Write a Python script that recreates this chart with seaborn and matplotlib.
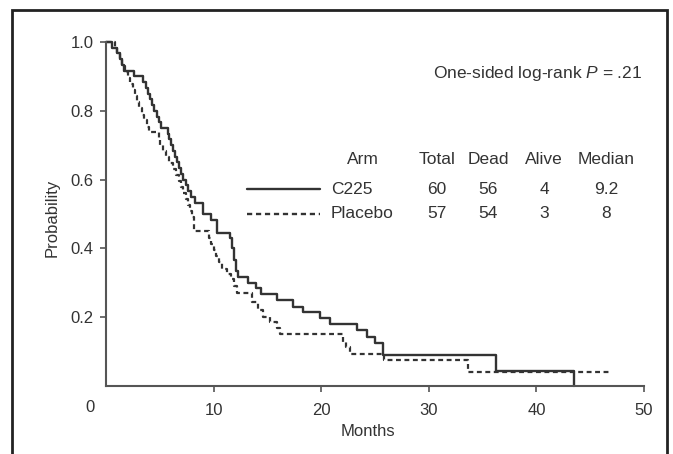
import matplotlib
matplotlib.use("Agg")
import matplotlib.pyplot as plt
from matplotlib.patches import Rectangle
from matplotlib.lines import Line2D
import numpy as np
import pandas as pd
import seaborn as sns

# ---- data ----
c225_months = [0, 0.6, 1.0, 1.3, 1.5, 1.7, 2.6, 3.4, 3.7, 3.9, 4.1, 4.3, 4.5, 4.7, 4.9, 5.1,
               5.8, 5.9, 6.0, 6.2, 6.4, 6.6, 6.8, 7.0, 7.2, 7.4, 7.6, 7.9, 8.3, 9.0, 9.8, 10.3,
               11.5, 11.7, 11.9, 12.1, 12.3, 13.2, 13.9, 14.4, 15.9, 17.4, 18.3, 19.9, 20.8,
               23.3, 24.3, 25.0, 25.7, 36.2, 43.5]
c225_surv = [1.0, 0.983, 0.967, 0.95, 0.933, 0.917, 0.9, 0.883, 0.867, 0.85, 0.833, 0.817, 0.8,
             0.783, 0.767, 0.75, 0.733, 0.717, 0.7, 0.683, 0.667, 0.65, 0.633, 0.617, 0.6, 0.583,
             0.567, 0.55, 0.533, 0.5, 0.483, 0.445, 0.43, 0.4, 0.367, 0.333, 0.317, 0.3, 0.285,
             0.268, 0.25, 0.23, 0.215, 0.197, 0.18, 0.162, 0.143, 0.125, 0.09, 0.044, 0.0]

placebo_months = [0, 0.8, 1.0, 1.3, 1.5, 1.8, 2.0, 2.2, 2.5, 2.7, 2.9, 3.1, 3.3, 3.5, 3.8, 4.0,
                  4.9, 5.0, 5.3, 5.6, 5.9, 6.2, 6.5, 6.8, 7.0, 7.2, 7.4, 7.6, 7.8, 8.0, 8.2, 9.6,
                  9.8, 10.0, 10.2, 10.5, 10.8, 11.2, 11.6, 11.9, 12.2, 13.6, 14.1, 14.6, 15.2,
                  15.9, 16.2, 22.0, 22.3, 22.7, 25.8, 33.6, 47.0]
placebo_surv = [1.0, 0.982, 0.965, 0.947, 0.93, 0.912, 0.895, 0.877, 0.86, 0.842, 0.825, 0.807,
                0.789, 0.772, 0.754, 0.737, 0.719, 0.702, 0.684, 0.667, 0.649, 0.632, 0.614,
                0.596, 0.579, 0.561, 0.544, 0.526, 0.509, 0.491, 0.45, 0.43, 0.412, 0.395, 0.377,
                0.36, 0.34, 0.325, 0.31, 0.29, 0.27, 0.244, 0.22, 0.2, 0.186, 0.168, 0.151,
                0.128, 0.113, 0.094, 0.075, 0.04, 0.04]

arm_names = ["C225", "Placebo"]
table_header = ["Arm", "Total", "Dead", "Alive", "Median"]
totals = ["60", "57"]
deads = ["56", "54"]
alives = ["4", "3"]
medians = ["9.2", "8"]

x_ticks = [10, 20, 30, 40, 50]
y_ticks = [0.2, 0.4, 0.6, 0.8, 1.0]
y_tick_labels = ["0.2", "0.4", "0.6", "0.8", "1.0"]

# ---- style ----
sns.set_theme(style="white")
plt.rcParams["font.family"] = ["Liberation Sans", "DejaVu Sans"]
plt.rcParams["mathtext.fontset"] = "custom"
plt.rcParams["mathtext.rm"] = "Liberation Sans"
plt.rcParams["mathtext.it"] = "Liberation Sans:italic"

W, H = 673, 454
fig = plt.figure(figsize=(W / 100, H / 100), dpi=100)
fig.patch.set_facecolor("white")

def fx(px):
    return px / W

def fy(py):
    return 1 - py / H

ax = fig.add_axes([fx(106), fy(386), fx(644) - fx(106), fy(42) - fy(386)])
ax.set_facecolor("white")

line_color = "#333333"
dash_style = (0, (2.2, 1.6))

df_c = pd.DataFrame({"Months": c225_months, "Probability": c225_surv})
df_p = pd.DataFrame({"Months": placebo_months, "Probability": placebo_surv})

sns.lineplot(data=df_c, x="Months", y="Probability", estimator=None, sort=False,
             drawstyle="steps-post", color=line_color, lw=1.7, ax=ax, clip_on=False)
sns.lineplot(data=df_p, x="Months", y="Probability", estimator=None, sort=False,
             drawstyle="steps-post", color=line_color, lw=1.6, linestyle=dash_style,
             ax=ax, clip_on=False)

ax.set_xlim(0, 50)
ax.set_ylim(0, 1.0)
ax.set_xticks(x_ticks)
ax.set_xticklabels([str(t) for t in x_ticks])
ax.set_yticks(y_ticks)
ax.set_yticklabels(y_tick_labels)
ax.tick_params(axis="both", which="both", direction="out", length=4, width=1.2,
               color="#555555", labelsize=12, labelcolor="#333333", pad=5,
               bottom=True, left=True)
ax.tick_params(axis="x", pad=8)
for s in ["top", "right"]:
    ax.spines[s].set_visible(False)
for s in ["left", "bottom"]:
    ax.spines[s].set_color("#555555")
    ax.spines[s].set_linewidth(1.5)
ax.set_xlabel("")
ax.set_ylabel("")

tc = "#333333"
fs = 12.5
# axis labels
fig.text(fx(368), fy(432), "Months", ha="center", va="center", fontsize=12, color=tc)
fig.text(fx(52), fy(218), "Probability", ha="center", va="center", rotation=90,
         fontsize=12, color=tc)
fig.text(fx(90), fy(407), "0", ha="center", va="center", fontsize=12, color=tc)

# annotation
fig.text(fx(642), fy(74), r"One-sided log-rank $\mathit{P}$ = .21", ha="right",
         va="center", fontsize=fs, color=tc)

# table
col_x = [363, 437, 488, 544, 606]
for x, h in zip(col_x, table_header):
    fig.text(fx(x), fy(159), h, ha="center", va="center", fontsize=fs, color=tc)
row_y = [189, 214]
styles = ["-", dash_style]
for i, name in enumerate(arm_names):
    y = row_y[i]
    fig.add_artist(Line2D([fx(247), fx(320)], [fy(y), fy(y)], transform=fig.transFigure,
                          color=line_color, lw=1.7, linestyle=styles[i]))
    fig.text(fx(331), fy(y), name, ha="left", va="center", fontsize=fs, color=tc)
    for x, v in zip(col_x[1:], [totals[i], deads[i], alives[i], medians[i]]):
        fig.text(fx(x), fy(y), v, ha="center", va="center", fontsize=fs, color=tc)

# outer frame
fig.add_artist(Rectangle((fx(12), fy(H + 20)), fx(667) - fx(12), fy(10) - fy(H + 20),
                         transform=fig.transFigure, fill=False, ec="#222222", lw=2))

fig.savefig("out.png", dpi=100, facecolor="white")
